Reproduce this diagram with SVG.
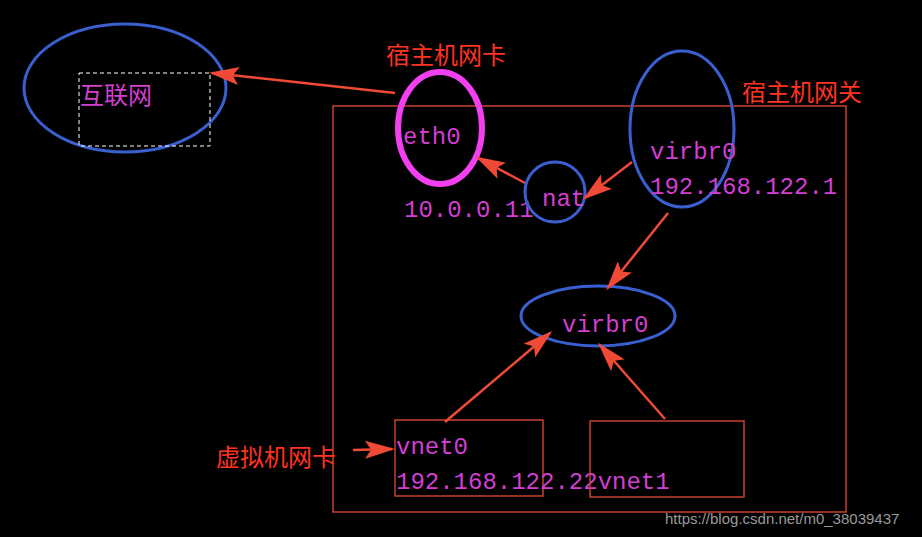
<svg xmlns="http://www.w3.org/2000/svg" width="922" height="537" viewBox="0 0 922 537">
<style>
.t{font-family:"Liberation Mono","Noto Sans CJK SC",monospace;font-size:24px;fill:#d23fd2}
.z{font-family:"Noto Sans CJK SC",sans-serif;font-size:24px;fill:#d23fd2}
.c{font-family:"Noto Sans CJK SC",sans-serif;font-size:24px;fill:#ff3322}
.b{fill:none;stroke:#3a5fd0;stroke-width:3}
.r{fill:none;stroke:#c8402f;stroke-width:1.5}
</style>
<defs>
<marker id="h2" viewBox="0 0 10 10" refX="9" refY="5" markerWidth="30" markerHeight="18" markerUnits="userSpaceOnUse" orient="auto" preserveAspectRatio="none"><path d="M0,0L10,5L0,10L2,5z" fill="#f04a36"/></marker></defs>
<rect width="922" height="537" fill="#000"/>
<rect x="333" y="106" width="513" height="406" class="r"/>
<g id="internet"><ellipse cx="125" cy="88" rx="101" ry="64" class="b"/><rect x="79" y="73" width="131" height="73" fill="none" stroke="#fff" stroke-dasharray="4,3"/><text x="80" y="104" class="z">互联网</text></g>
<g id="eth0"><ellipse cx="440" cy="128" rx="42" ry="56" fill="none" stroke="#f23ff0" stroke-width="6"/><text x="403" y="144" class="t">eth0</text><text x="386" y="64" class="c">宿主机网卡</text><text x="404" y="217" class="t">10.0.0.11</text></g>
<g id="nat"><circle cx="555" cy="192" r="30" class="b"/><text x="542" y="206" class="t">nat</text></g>
<g id="virbr0-host"><ellipse cx="682" cy="129" rx="52" ry="78" class="b"/><text x="650" y="159" class="t">virbr0</text><text x="650" y="194" class="t">192.168.122.1</text><text x="742" y="101" class="c">宿主机网关</text></g>
<g id="virbr0"><ellipse cx="598" cy="316" rx="77" ry="30" class="b"/><text x="562" y="332" class="t">virbr0</text></g>
<g id="vnet0"><rect x="395" y="420" width="148" height="76" class="r"/><text x="396" y="454" class="t">vnet0</text><text x="396" y="489" class="t">192.168.122.22vnet1</text></g>
<g id="vnet1"><rect x="590" y="421" width="154" height="76" class="r"/></g>
<text x="216" y="466" class="c">虚拟机网卡</text>
<text x="665" y="524" font-family="Liberation Sans,sans-serif" font-size="15" fill="#9a9a9a">https://blog.csdn.net/m0_38039437</text>
<g id="connectors" stroke="#f04a36" stroke-width="2.5" fill="none">
<path d="M395,93L212,73" marker-end="url(#h2)"/>
<path d="M632,162L585,198" marker-end="url(#h2)"/>
<path d="M525,183L478,158" marker-end="url(#h2)"/>
<path d="M668,213L608,288" marker-end="url(#h2)"/>
<path d="M445,422L550,333" marker-end="url(#h2)"/>
<path d="M665,419L600,345" marker-end="url(#h2)"/>
<path d="M353,450L392,449" marker-end="url(#h2)"/>
</g>
</svg>
